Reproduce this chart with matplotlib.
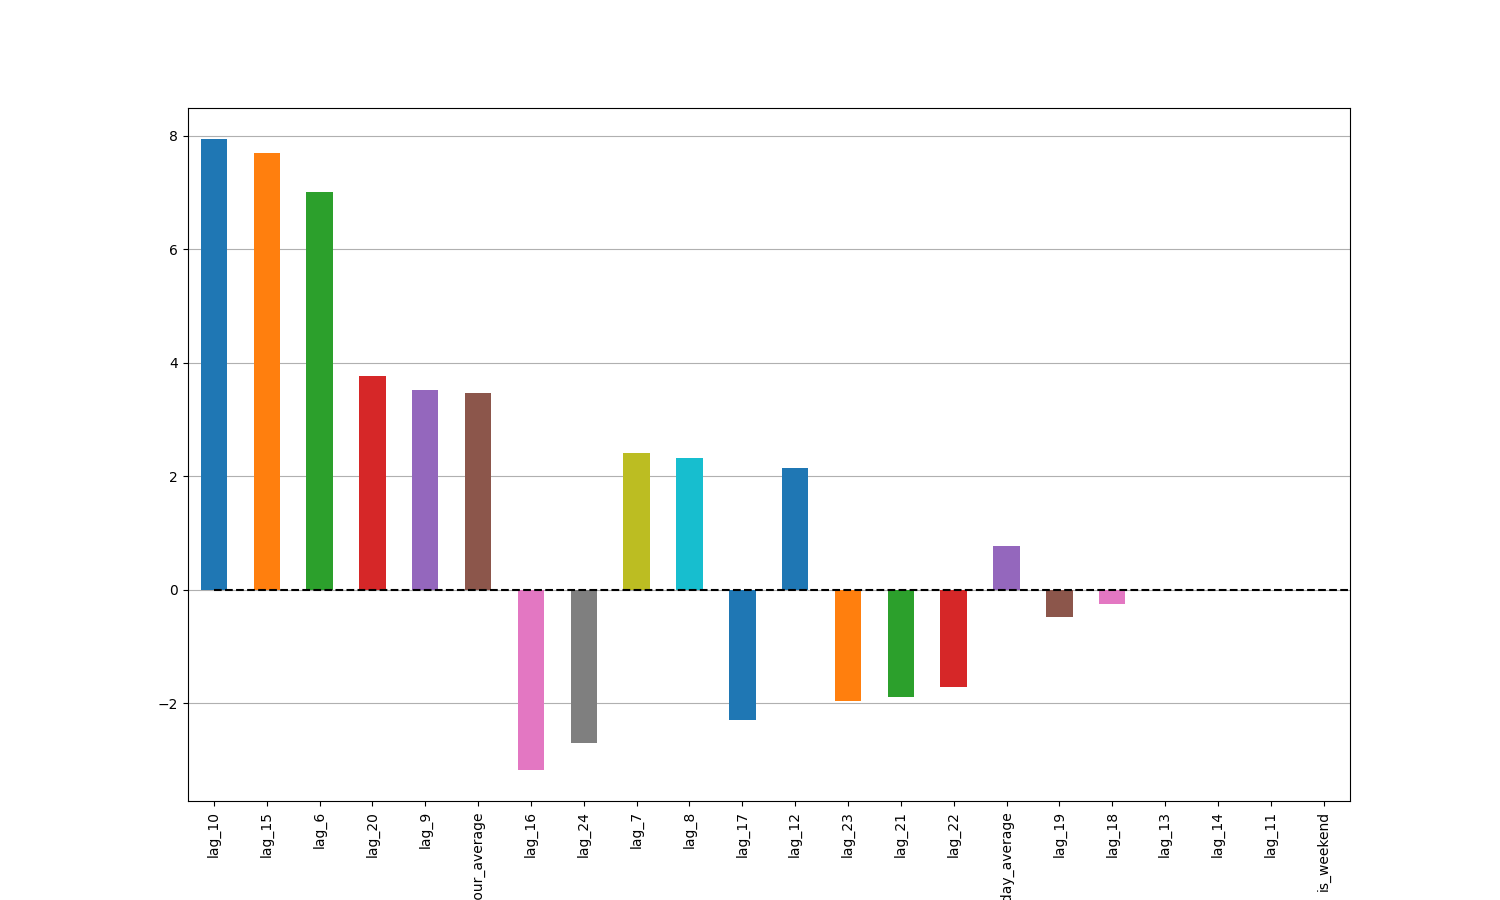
import matplotlib
matplotlib.use("Agg")
import matplotlib.pyplot as plt
import numpy as np

# feature names and coefficients
features = ["lag_10", "lag_15", "lag_6", "lag_20", "lag_9", "prev_24_hour_average",
            "lag_16", "lag_24", "lag_7", "lag_8", "lag_17", "lag_12", "lag_23",
            "lag_21", "lag_22", "prev_7_day_average", "lag_19", "lag_18",
            "lag_13", "lag_14", "lag_11", "is_weekend"]
coefs = [7.93, 7.70, 7.01, 3.77, 3.52, 3.47,
         -3.17, -2.70, 2.41, 2.31, -2.29, 2.15, -1.96,
         -1.90, -1.71, 0.76, -0.48, -0.25,
         0.0, 0.0, 0.0, 0.0]

# the reference repeats blue once before the cycle starts over
colors = plt.rcParams["axes.prop_cycle"].by_key()["color"]
palette = colors + [colors[0]]
bar_colors = [palette[i % len(palette)] for i in range(len(features))]

fig, ax = plt.subplots(figsize=(15, 9), dpi=100)
x = np.arange(len(features))
ax.bar(x, coefs, width=0.5, color=bar_colors, zorder=2)
ax.set_xlim(-0.5, len(features) - 0.5)
ax.set_xticks(x)
ax.set_xticklabels(features, rotation=90)
ax.grid(axis="y", zorder=0)
ax.set_axisbelow(True)

# dashed zero line, from the first bar centre to the right edge
ax.axhline(0, xmin=0.5 / len(features), xmax=1, color="k", linestyle="--", zorder=3)

plt.savefig("out.png")
